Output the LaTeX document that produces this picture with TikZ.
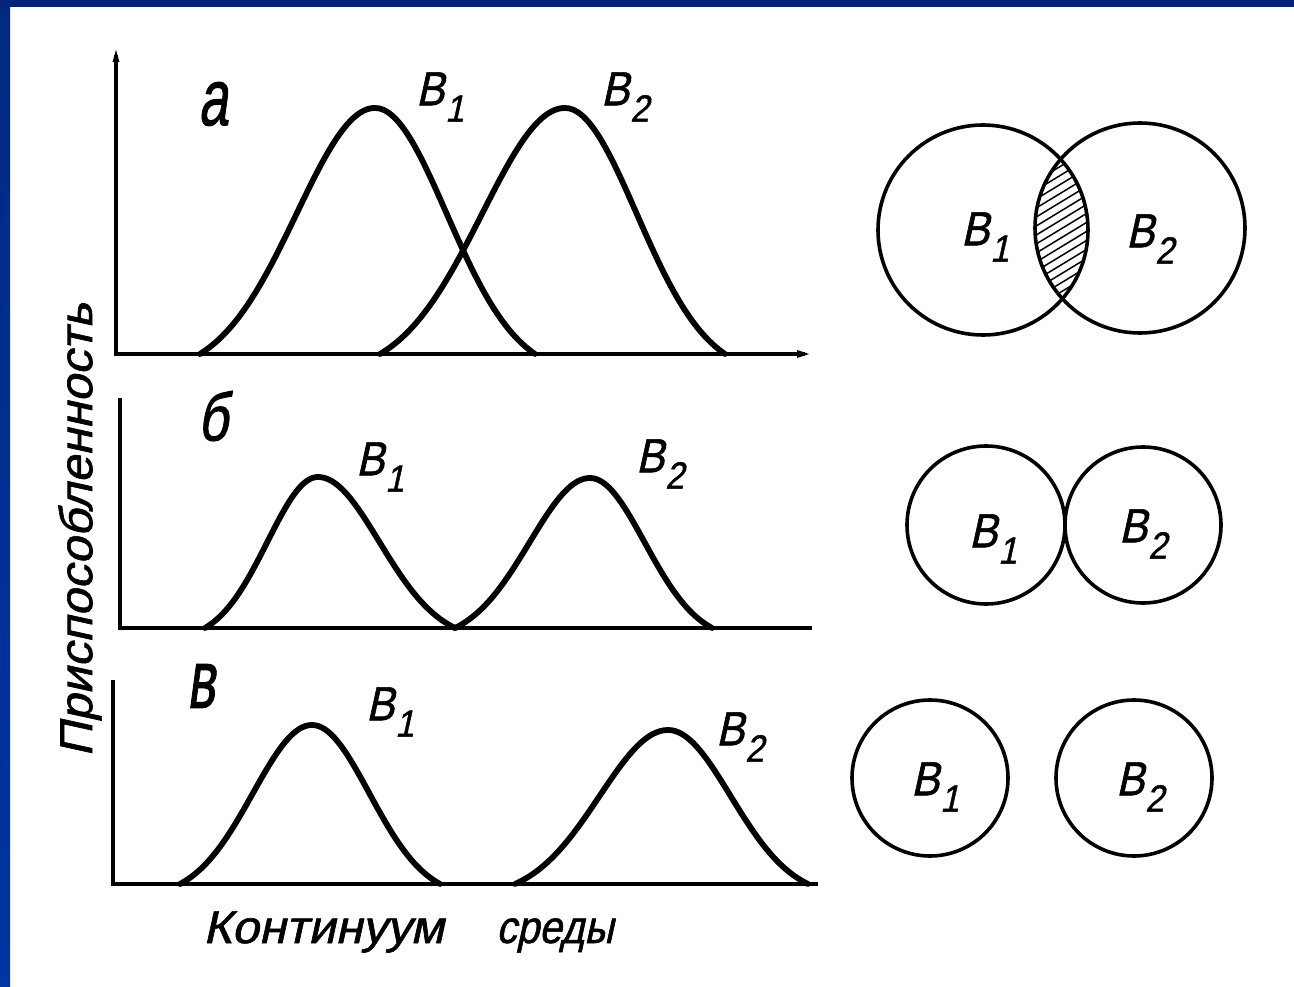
\documentclass[tikz,border=0pt]{standalone}
\usepackage{fontspec}
\newfontfamily\lab[FakeStretch=0.88,FakeSlant=0.22,FakeBold=1.2]{Liberation Sans}
\newfontfamily\labw[FakeStretch=1.06,FakeSlant=0.22,FakeBold=1.4]{Liberation Sans}
\usetikzlibrary{arrows.meta}
\definecolor{navy}{HTML}{00247A}
\definecolor{bluetop}{HTML}{002A82}
\definecolor{bluebot}{HTML}{0035A4}
\tikzset{
  axis/.style={line width=4.5pt, line cap=butt},
  curve/.style={line width=5.8pt, line cap=round, line join=round},
  ring/.style={line width=3.6pt},
  txt/.style={inner sep=0pt, font=\lab\fontsize{48}{48}\selectfont},
  ttl/.style={inner sep=0pt, font=\labw\fontsize{46}{46}\selectfont},
  plet/.style={inner sep=0pt, font=\labw\fontsize{50}{50}\selectfont},
}
% \bump{mu}{wl}{wr}{h}{base}
\newcommand\bump[5]{%
  \draw[curve] plot[domain=-1:1, samples=81, smooth]
    ({#1+(\x<0?#2:#3)*\x}, {#5-#4*(exp(-2.5*\x*\x)-0.0821)/0.9179});}
\newcommand\Blab[3]{% name, position, digit
  \node[txt] (#1) at (#2) {B\kern0.02em\raisebox{-0.34em}{\fontsize{38}{38}\selectfont #3}};}
\begin{document}
\begin{tikzpicture}[x=1pt,y=-1pt]
\useasboundingbox (0,0) rectangle (1294,987);
\fill[white] (0,0) rectangle (1294,987);
% frame
\shade[top color=bluetop, bottom color=bluebot] (0,0) rectangle (10,987);
\fill[navy] (0,0) rectangle (1294,7);

% ---- panel a ----
\draw[axis] (116,55) -- (116,354) -- (805,354);
\fill (116,50) -- (112.5,62) -- (119.5,62) -- cycle;
\fill (809,354) -- (797,350) -- (797,358) -- cycle;
\bump{375}{175}{160}{246}{354}
\bump{565}{185}{160}{246}{354}
\node[plet] (la) at (213,104) {\scalebox{1}[1.6]{а}};
\Blab{a1}{440,97}{1}
\Blab{a2}{625,97}{2}

% ---- panel б ----
\draw[axis] (120,398) -- (120,628) -- (812,628);
\bump{318}{113}{137}{151}{628}
\bump{590}{135}{122}{150}{628}
\node[plet] (lb) at (213,416) {\scalebox{1}[1.35]{б}};
\Blab{b1}{380,467}{1}
\Blab{b2}{660,464}{2}

% ---- panel в ----
\draw[axis] (113,680) -- (113,884) -- (818,884);
\bump{312}{132}{128}{159}{884}
\bump{668}{153}{140}{154}{884}
\node[plet] (lc) at (201,686) {\scalebox{1}[1.65]{в}};
\Blab{c1}{390,712}{1}
\Blab{c2}{740,737}{2}

% axis titles
\node[ttl, rotate=90] (ylab) at (80,530) {Приспособленность};
\node[ttl, anchor=base west] (xlab1) at (203,943) {Континуум};
\node[ttl, anchor=base west, font=\lab\fontsize{46}{46}\selectfont] (xlab2) at (496,943) {среды};

% ---- circles a ----
\begin{scope}
  \clip (983,230) circle (105);
  \clip (1140,228) circle (105);
  \foreach \k in {-20,...,20}
    \draw[line width=1.5pt] (1000,230+\k*9) -- +(140,-85);
\end{scope}
\draw[ring] (983,230) circle (105);
\draw[ring] (1140,228) circle (105);
\Blab{ca1}{985,237}{1}
\Blab{ca2}{1150,239}{2}

% ---- circles б ----
\draw[ring] (986,525) circle (79);
\draw[ring] (1143,525) circle (78);
\Blab{cb1}{993,539}{1}
\Blab{cb2}{1143,534}{2}

% ---- circles в ----
\draw[ring] (930,778) circle (78);
\draw[ring] (1134,778) circle (78);
\Blab{cc1}{935,787}{1}
\Blab{cc2}{1140,787}{2}
\end{tikzpicture}
\end{document}
